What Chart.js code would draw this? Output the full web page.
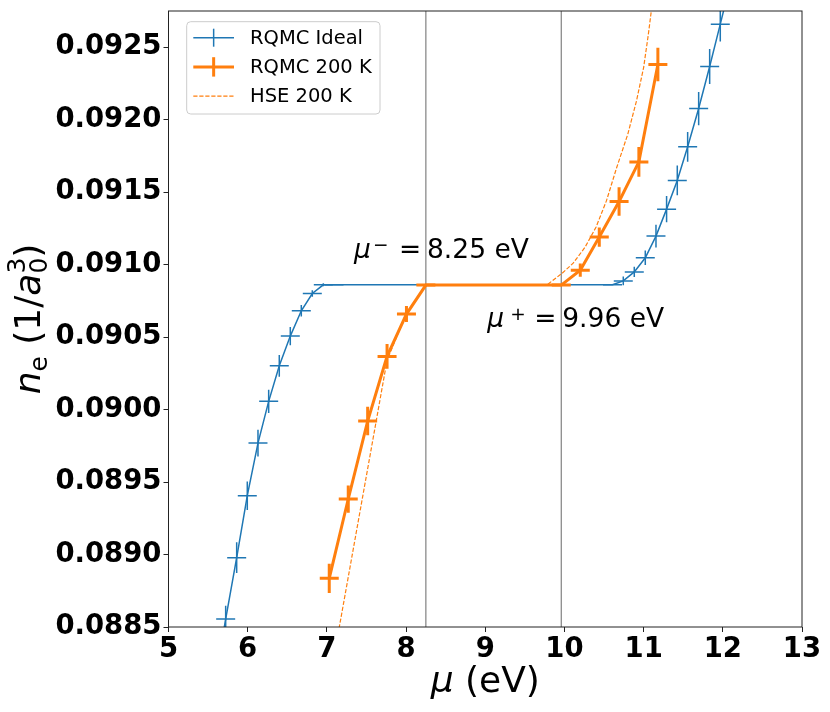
<!DOCTYPE html>
<html>
<head>
    <title>Electron density vs chemical potential</title>
    <script src="https://cdn.jsdelivr.net/npm/chart.js"></script>
    <style>
        body { margin: 0; background: #fff; }
        #wrap { width: 830px; height: 712px; }
    </style>
</head>
<body>
    <div id="wrap"><canvas id="nePlot" width="830" height="712"></canvas></div>

    <script>
        // values
        const xTicks = [5, 6, 7, 8, 9, 10, 11, 12, 13];
        const yTicks = [0.0885, 0.0890, 0.0895, 0.0900, 0.0905, 0.0910, 0.0915, 0.0920, 0.0925];

        // RQMC Ideal
        const idealMu = [5.586, 5.722, 5.861, 5.995, 6.130, 6.265, 6.399, 6.538, 6.677, 6.816, 6.955, 7.090,
                         10.607, 10.743, 10.882, 11.021, 11.156, 11.290, 11.425, 11.556, 11.695, 11.834, 11.968, 12.104];
        const idealNe = [0.08812, 0.088555, 0.088978, 0.089406, 0.089769, 0.090057, 0.090302, 0.090507, 0.090682, 0.090801, 0.090861, 0.090862,
                         0.090862, 0.090888, 0.090950, 0.091047, 0.091197, 0.091383, 0.091581, 0.091813, 0.092077, 0.092367, 0.092659, 0.09296];
        const idealErr = [0.0001, 0.000092, 0.000106, 0.000098, 0.000092, 0.00008, 0.000075, 0.000063, 0.00004, 0.000023, 0.00001, 0,
                          0, 0.00003, 0.000035, 0.00005, 0.000078, 0.00009, 0.000103, 0.000103, 0.000115, 0.00012, 0.00012, 0.00012];

        // RQMC 200 K
        const rqmcMu = [7.03, 7.27, 7.515, 7.76, 8.005, 8.25, 9.96, 10.2, 10.44, 10.69, 10.94, 11.18];
        const rqmcNe = [0.088836, 0.089383, 0.089921, 0.090367, 0.090659, 0.090859, 0.090859, 0.090962, 0.091190, 0.091436, 0.091709, 0.092381];
        const rqmcErr = [0.000101, 0.000094, 0.000098, 0.000086, 0.000055, 0, 0, 0.000046, 0.000066, 0.000098, 0.000103, 0.000115];

        // HSE 200 K
        const hseMu = [7.10, 7.30, 7.42, 7.55, 7.76, 8.0, 8.25, 9.776, 9.97, 10.11, 10.26, 10.40, 10.53, 10.66, 10.80, 10.91, 11.00, 11.06, 11.12];
        const hseNe = [0.088326, 0.088936, 0.089302, 0.089698, 0.09034, 0.09066, 0.090859, 0.090859, 0.09094, 0.09101, 0.09112, 0.09126,
                       0.09144, 0.09167, 0.09190, 0.09213, 0.09236, 0.09259, 0.09285];

        // band edges
        const muMinus = 8.25;
        const muPlus = 9.96;

        const blue = '#1f77b4';
        const orange = '#ff7f0e';
        const yMin = 0.0885, yMax = 0.09275;

        const toPoints = (xs, ys) => xs.map((x, i) => ({ x: x, y: ys[i] }));

        // vertical error bars, drawn right after their own dataset
        const errorBars = {
            id: 'errorBars',
            afterDatasetDraw(chart, args) {
                const ds = chart.data.datasets[args.index];
                if (!ds.yErr) return;
                const { ctx, chartArea, scales } = chart;
                ctx.save();
                ctx.beginPath();
                ctx.rect(chartArea.left, chartArea.top, chartArea.width, chartArea.height);
                ctx.clip();
                ctx.strokeStyle = ds.borderColor;
                ctx.lineWidth = ds.borderWidth;
                ds.data.forEach((p, i) => {
                    const e = ds.yErr[i];
                    if (!e) return;
                    const px = scales.x.getPixelForValue(p.x);
                    ctx.beginPath();
                    ctx.moveTo(px, scales.y.getPixelForValue(p.y - e));
                    ctx.lineTo(px, scales.y.getPixelForValue(p.y + e));
                    ctx.stroke();
                });
                ctx.restore();
            }
        };

        // draws a run of text pieces: [text, font, dx, dy]
        function drawPieces(ctx, x, y, pieces) {
            pieces.forEach(p => {
                ctx.font = p[1];
                ctx.fillText(p[0], x + p[2], y + p[3]);
            });
        }

        // frame, legend, annotations, axis titles
        const decorations = {
            id: 'decorations',
            afterDraw(chart) {
                const { ctx, chartArea: a, scales } = chart;
                const ff = '"DejaVu Sans", sans-serif';
                ctx.save();

                // spines
                ctx.strokeStyle = '#222';
                ctx.lineWidth = 1;
                ctx.strokeRect(a.left, a.top, a.right - a.left, a.bottom - a.top);

                // legend
                const lx = a.left + 18.2, ly = a.top + 10.7, lw = 193.3, lh = 92.3;
                ctx.beginPath();
                ctx.roundRect(lx, ly, lw, lh, 4);
                ctx.fillStyle = 'rgba(255,255,255,0.8)';
                ctx.fill();
                ctx.strokeStyle = '#cccccc';
                ctx.stroke();
                const rows = [
                    { label: 'RQMC Ideal', color: blue, width: 1.5, bar: 9, dash: [] },
                    { label: 'RQMC 200 K', color: orange, width: 3, bar: 9.7, dash: [] },
                    { label: 'HSE 200 K', color: orange, width: 1.2, bar: 0, dash: [4.2, 1.8] }
                ];
                rows.forEach((r, i) => {
                    const ry = ly + 16 + i * 29.2;
                    const hx0 = lx + 6.6, hx1 = lx + 47.3, hc = (hx0 + hx1) / 2;
                    ctx.strokeStyle = r.color;
                    ctx.lineWidth = r.width;
                    ctx.setLineDash(r.dash);
                    ctx.beginPath();
                    ctx.moveTo(hx0, ry);
                    ctx.lineTo(hx1, ry);
                    ctx.stroke();
                    ctx.setLineDash([]);
                    if (r.bar) {
                        ctx.beginPath();
                        ctx.moveTo(hc, ry - r.bar);
                        ctx.lineTo(hc, ry + r.bar);
                        ctx.stroke();
                    }
                    ctx.fillStyle = '#000';
                    ctx.font = '19.5px ' + ff;
                    ctx.textBaseline = 'middle';
                    ctx.textAlign = 'left';
                    ctx.fillText(r.label, lx + 63.3, ry + 1);
                });

                // annotations at the band edges
                ctx.fillStyle = '#000';
                ctx.textBaseline = 'alphabetic';
                const big = '26.5px ' + ff, ital = 'italic 26.5px ' + ff, sup = '18.5px ' + ff;
                let tx = scales.x.getPixelForValue(7.355), ty = scales.y.getPixelForValue(0.091043);
                drawPieces(ctx, tx, ty, [['μ', ital, -1, 0], ['−', sup, 18, -7], ['=', big, 44, 0], [muMinus.toFixed(2) + ' eV', big, 72, 0]]);
                tx = scales.x.getPixelForValue(9.038); ty = scales.y.getPixelForValue(0.090571);
                drawPieces(ctx, tx, ty, [['μ', ital, -1, 0], ['+', sup, 22, -7], ['=', big, 46, 0], [muPlus.toFixed(2) + ' eV', big, 74, 0]]);

                // x axis title
                const lab = '36px ' + ff, labI = 'italic 36px ' + ff;
                ctx.font = labI;
                const wMu = ctx.measureText('μ').width;
                ctx.font = lab;
                const wRest = ctx.measureText(' (eV)').width;
                const xc = (a.left + a.right) / 2;
                drawPieces(ctx, xc - (wMu + wRest) / 2, 692, [['μ', labI, 0, 0], [' (eV)', lab, wMu, 0]]);

                // y axis title, rotated
                const sub = '25px ' + ff;
                const parts = [];
                let off = 0;
                const add = (t, f, dy, advance) => {
                    ctx.font = f;
                    const w = ctx.measureText(t).width;
                    parts.push([t, f, off, dy]);
                    if (advance !== false) off += w;
                    return w;
                };
                add('n', labI, 0);
                add('e', sub, 7);
                add(' (1/', lab, 0);
                add('a', labI, 0);
                const w3 = add('3', sub, -15, false);
                const w0 = add('0', sub, 7, false);
                off += Math.max(w0, w3);
                add(')', lab, 0);
                const yc = (a.top + a.bottom) / 2;
                ctx.translate(40, yc + off / 2);
                ctx.rotate(-Math.PI / 2);
                drawPieces(ctx, 0, 0, parts);

                ctx.restore();
            }
        };

        const tickFont = { family: 'DejaVu Sans', size: 27.5, weight: 'bold' };

        const ctx = document.getElementById('nePlot').getContext('2d');
        const chart = new Chart(ctx, {
            type: 'scatter',
            data: {
                datasets: [
                    {
                        label: 'RQMC 200 K',
                        data: toPoints(rqmcMu, rqmcNe),
                        yErr: rqmcErr,
                        showLine: true,
                        borderColor: orange,
                        backgroundColor: orange,
                        borderWidth: 3,
                        pointStyle: 'line',
                        pointRadius: 9.5,
                        pointBorderWidth: 3,
                        pointBorderColor: orange
                    },
                    {
                        label: 'RQMC Ideal',
                        data: toPoints(idealMu, idealNe),
                        yErr: idealErr,
                        showLine: true,
                        borderColor: blue,
                        backgroundColor: blue,
                        borderWidth: 1.5,
                        pointStyle: 'line',
                        pointRadius: 9.5,
                        pointBorderWidth: 1.5,
                        pointBorderColor: blue
                    },
                    {
                        label: 'HSE 200 K',
                        data: toPoints(hseMu, hseNe),
                        showLine: true,
                        borderColor: orange,
                        borderWidth: 1.2,
                        borderDash: [4.2, 1.8],
                        pointRadius: 0
                    },
                    {
                        label: 'mu minus',
                        data: [{ x: muMinus, y: yMin }, { x: muMinus, y: yMax }],
                        showLine: true,
                        borderColor: '#808080',
                        borderWidth: 1.2,
                        pointRadius: 0
                    },
                    {
                        label: 'mu plus',
                        data: [{ x: muPlus, y: yMin }, { x: muPlus, y: yMax }],
                        showLine: true,
                        borderColor: '#808080',
                        borderWidth: 1.2,
                        pointRadius: 0
                    }
                ]
            },
            options: {
                responsive: false,
                devicePixelRatio: 1,
                animation: false,
                layout: { autoPadding: false, padding: { top: 11, right: 28, left: 0, bottom: 0 } },
                plugins: {
                    legend: { display: false },
                    tooltip: { enabled: false }
                },
                elements: { line: { tension: 0 } },
                scales: {
                    x: {
                        type: 'linear',
                        min: 5,
                        max: 13,
                        afterBuildTicks: s => { s.ticks = xTicks.map(v => ({ value: v })); },
                        afterFit: s => { s.height = 85; s.paddingLeft = 0; s.paddingRight = 0; s.paddingTop = 0; s.paddingBottom = 0; },
                        border: { display: false },
                        grid: { drawOnChartArea: false, drawTicks: true, tickLength: 5, color: '#222' },
                        ticks: { font: tickFont, color: '#000', padding: 1, maxRotation: 0, autoSkip: false }
                    },
                    y: {
                        type: 'linear',
                        min: yMin,
                        max: yMax,
                        afterBuildTicks: s => { s.ticks = yTicks.map(v => ({ value: v })); },
                        afterFit: s => { s.width = 168.5; s.paddingLeft = 0; s.paddingRight = 0; s.paddingTop = 0; s.paddingBottom = 0; },
                        border: { display: false },
                        grid: { drawOnChartArea: false, drawTicks: true, tickLength: 5, color: '#222' },
                        ticks: { font: tickFont, color: '#000', padding: 2, autoSkip: false, callback: v => v.toFixed(4) }
                    }
                }
            },
            plugins: [errorBars, decorations]
        });
    </script>
</body>
</html>
